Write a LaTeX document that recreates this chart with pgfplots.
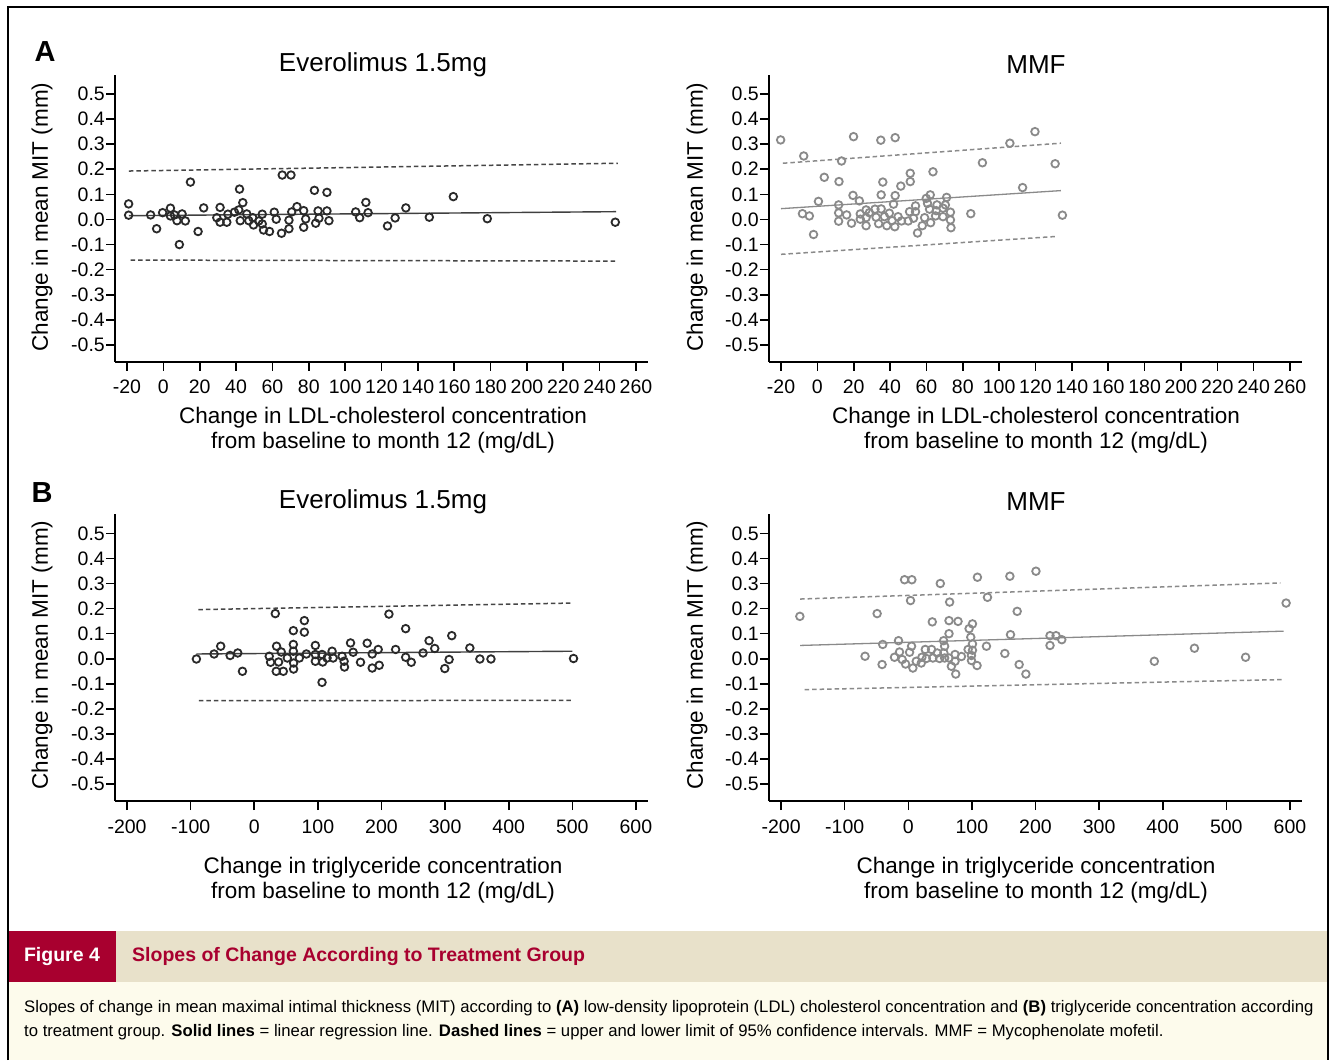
\documentclass[border=0pt]{standalone}
\usepackage{fontspec}
\setmainfont{Liberation Sans}
\usepackage{pgfplots}
\pgfplotsset{compat=1.18}

\definecolor{ptdark}{HTML}{2A2A2A}
\definecolor{ptgray}{HTML}{8A8A8A}
\definecolor{figred}{HTML}{A8002F}
\definecolor{bandbeige}{HTML}{E8E1CA}
\definecolor{capcream}{HTML}{FDFBEC}

\pgfplotsset{
  panel/.style={
    scale only axis, width=533pt, height=287pt,
    anchor=south west, clip=false,
    axis lines=left, axis line style={-, line width=1.8pt, black},
    ymin=-0.567, ymax=0.577,
    ytick={-0.5,-0.4,-0.3,-0.2,-0.1,0,0.1,0.2,0.3,0.4,0.5},
    yticklabels={-0.5,-0.4,-0.3,-0.2,-0.1,0.0,0.1,0.2,0.3,0.4,0.5},
    tick align=outside, major tick length=9pt,
    tick style={black, line width=1.6pt},
    ticklabel style={font=\fontsize{19.5}{21}\selectfont},
    yticklabel style={inner sep=1pt},
    xticklabel style={yshift=-6pt},
  },
  ldl/.style={xmin=-26.6, xmax=266.6,
    xtick={-20,0,20,40,60,80,100,120,140,160,180,200,220,240,260},
    xticklabels={-20,0,20,40,60,80,100,120,140,160,180,200,220,240,260}},
  tg/.style={xmin=-219, xmax=619,
    xtick={-200,-100,0,100,200,300,400,500,600},
    xticklabels={-200,-100,0,100,200,300,400,500,600}},
  dots/.style={only marks, mark=o, mark size=3.8pt, mark options={line width=1.8pt}},
  ci/.style={line width=1.5pt, dash pattern=on 4.5pt off 3pt},
}

\newcommand{\lab}{\fontsize{22.5}{25}\selectfont}
\newcommand{\capfont}{\fontsize{16.7}{18}\selectfont}

\begin{document}
\begin{tikzpicture}
% page and frame
\fill[white] (0pt,0pt) rectangle (1333pt,1060pt);
\fill[capcream] (8pt,0pt) rectangle (1328pt,78pt);
\fill[bandbeige] (8pt,78pt) rectangle (1328pt,129pt);
\fill[figred] (8pt,78pt) rectangle (116pt,129pt);
\draw[black, line width=2pt] (7.5pt,0pt) -- (7.5pt,1052.5pt) -- (1327.5pt,1052.5pt) -- (1327.5pt,0pt);

% ---- A: LDL, everolimus
\begin{axis}[panel, ldl, at={(115pt,698.3pt)}]
\addplot[ci, gray!55!black] coordinates {(-19,0.193) (250,0.224)};
\addplot[ci, gray!55!black] coordinates {(-18,-0.162) (250,-0.166)};
\addplot[gray!50!black, line width=1.4pt] coordinates {(-19,0.015) (249,0.031)};
\addplot[dots, ptdark] coordinates {
(-19.1,0.062) (-19.1,0.017) (-7,0.018) (-3.7,-0.037) (-0.4,0.027) (3.9,0.045)
(3.9,0.014) (6.1,0.018) (7.5,-0.005) (10.3,0.022) (12.1,-0.006) (8.8,-0.1)
(14.9,0.149) (19.1,-0.048) (22.2,0.046) (29.4,0.007) (31.2,0.048) (31.2,-0.011)
(34.9,-0.011) (35.5,0.021) (39.1,0.029) (41.9,0.121) (43.7,0.067) (41.5,0.038)
(42.3,-0.005) (45.9,0.022) (47,-0.005) (49.2,0.007) (49.6,-0.022) (52.5,-0.006)
(54.4,0.021) (54.4,-0.018) (55.1,-0.042) (58.4,-0.048) (61,0.029) (62.1,0.001)
(65,-0.055) (65.4,0.177) (70.2,0.177) (69.1,-0.003) (69.1,-0.037) (70.6,0.03)
(73.5,0.051) (77.2,0.035) (78.3,0.002) (77.2,-0.031) (83.1,0.116) (83.8,-0.015)
(85.1,0.034) (85.6,0.005) (90,0.108) (90,0.034) (91.1,-0.005) (105.8,0.03)
(108,0.007) (111.4,0.068) (112.6,0.027) (123.3,-0.026) (127.5,0.006) (133.4,0.046)
(146.3,0.009) (159.5,0.091) (178.2,0.003) (248.6,-0.011)};
\end{axis}

% ---- A: LDL, MMF
\begin{axis}[panel, ldl, at={(769pt,698.3pt)}]
\addplot[ci, ptgray] coordinates {(-19,0.224) (134,0.304)};
\addplot[ci, ptgray] coordinates {(-20,-0.139) (131,-0.068)};
\addplot[ptgray, line width=1.3pt] coordinates {(-20,0.043) (134,0.115)};
\addplot[dots, ptgray] coordinates {
(-20.2,0.317) (-7.5,0.253) (-8.2,0.023) (-4.4,0.014) (-2.1,-0.06) (0.6,0.072)
(3.8,0.168) (11.9,0.151) (13.3,0.233) (11.7,0.058) (11.7,0.026) (11.7,-0.007)
(16.1,0.018) (18.8,-0.015) (19.6,0.096) (19.9,0.33) (23.1,0.074) (23.6,0.022)
(23.6,0.001) (26.8,0.038) (26.8,0.007) (26.8,-0.025) (28.6,0.027) (31.7,0.041)
(32.3,0.009) (33.7,-0.017) (34.9,0.316) (35.1,0.098) (36,0.149) (35.1,0.042)
(36.9,0.011) (38.2,-0.025) (39.6,0.025) (41.1,-0.005) (42.6,-0.029) (41.9,0.061)
(42.8,0.095) (42.8,0.326) (44.4,0.011) (45.9,0.133) (46.3,-0.006) (50,-0.006)
(51.1,0.184) (51.1,0.151) (50.7,0.031) (52.9,0.005) (54,0.054) (54,0.031)
(55.1,-0.054) (57.7,-0.025) (59,0.007) (59.9,0.084) (60.6,0.064) (62.1,0.098)
(61.7,0.041) (62.3,-0.013) (63.6,0.19) (65.4,0.035) (65.8,0.058) (65,0.014)
(69.1,0.045) (69.1,0.011) (71.1,0.088) (70.4,0.058) (73.2,0.029) (73.2,-0.002)
(73.5,-0.033) (84.4,0.023) (90.8,0.226) (105.9,0.304) (112.9,0.127) (119.7,0.35)
(130.8,0.222) (134.8,0.017)};
\end{axis}

% ---- B: triglyceride, everolimus
\begin{axis}[panel, tg, at={(115pt,259pt)}]
\addplot[ci, gray!55!black] coordinates {(-88,0.196) (500,0.222)};
\addplot[ci, gray!55!black] coordinates {(-87,-0.167) (500,-0.166)};
\addplot[gray!50!black, line width=1.4pt] coordinates {(-91,0.019) (500,0.03)};
\addplot[dots, ptdark] coordinates {
(-91,-0.001) (-63.2,0.019) (-52.8,0.05) (-38,0.013) (-26,0.023) (-18.6,-0.05)
(23.5,0.01) (25.6,-0.014) (33,0.18) (35,0.05) (34.5,-0.05) (38.2,-0.013)
(42.4,0.027) (45.6,-0.05) (51.9,0.003) (61.4,0.112) (61.4,0.057) (61.4,0.03)
(61.8,-0.017) (61.8,-0.041) (70.8,0.003) (78.7,0.152) (78.7,0.106) (81.9,0.019)
(96,0.053) (96,0.017) (96,-0.01) (106.5,0.017) (107.6,-0.013) (106.5,-0.094)
(114.4,0.003) (122.3,0.03) (123.9,0.003) (138,0.01) (141.2,-0.01) (141.8,-0.033)
(151.3,0.063) (155.4,0.026) (167,-0.014) (177.5,0.062) (185.4,0.019) (185.4,-0.037)
(194.8,0.037) (196.4,-0.026) (211.7,0.178) (222.2,0.037) (238,0.12) (238,0.006)
(246.8,-0.014) (265.3,0.023) (274.8,0.072) (283.7,0.041) (299.5,-0.039) (306.3,-0.003)
(310.5,0.092) (338.9,0.043) (354.7,-0.001) (372.1,-0.001) (501.9,0.001)};
\end{axis}

% ---- B: triglyceride, MMF
\begin{axis}[panel, tg, at={(769pt,259pt)}]
\addplot[ci, ptgray] coordinates {(-170,0.238) (585,0.302)};
\addplot[ci, ptgray] coordinates {(-163,-0.123) (588,-0.083)};
\addplot[ptgray, line width=1.3pt] coordinates {(-170,0.053) (590,0.11)};
\addplot[dots, ptgray] coordinates {
(-170.5,0.169) (-68,0.01) (-49,0.18) (-40.2,0.057) (-41.2,-0.023) (-15.4,0.072)
(-21.7,0.006) (-13.8,0.027) (-9.6,-0.003) (-5.9,0.315) (5.6,0.315) (3.5,0.232)
(-4.3,-0.021) (2,0.026) (5.1,0.05) (7.2,-0.037) (12.5,-0.01) (20.4,-0.017)
(21.4,0.006) (26.7,0.037) (28.3,0.001) (37.7,0.147) (36.6,0.037) (38.7,0.003)
(45.6,0.023) (50.3,0.3) (49.2,0.001) (55.5,0.072) (57.1,0.05) (56,0.023)
(57.1,0.003) (64,0.152) (65,0.226) (64,0.1) (64,0.003) (67.7,-0.03)
(73.5,0.017) (73.5,-0.01) (74.6,-0.061) (78.2,0.149) (83.5,0.009) (94,0.037)
(95.6,0.12) (100.9,0.139) (98.2,0.086) (100.9,0.059) (100.9,0.034) (99.3,0.013)
(99.3,-0.007) (108.1,-0.027) (108.7,0.325) (122.9,0.05) (124.5,0.245) (151.8,0.021)
(159.7,0.329) (160.7,0.096) (171.2,0.189) (174.3,-0.023) (184.9,-0.061) (200.7,0.349)
(222.8,0.092) (222.8,0.053) (232.3,0.092) (241.3,0.076) (386.8,-0.01) (449.9,0.042)
(530.3,0.006) (594,0.222)};
\end{axis}

% panel letters, titles, axis labels
\node[font=\fontsize{29}{30}\selectfont\bfseries] at (45pt,1008pt) {A};
\node[font=\fontsize{29}{30}\selectfont\bfseries] at (42pt,567pt) {B};
\node[font=\fontsize{26}{28}\selectfont] at (383pt,995pt) {Everolimus 1.5mg};
\node[font=\fontsize{26}{28}\selectfont] at (1036pt,995pt) {MMF};
\node[font=\fontsize{26}{28}\selectfont] at (383pt,558pt) {Everolimus 1.5mg};
\node[font=\fontsize{26}{28}\selectfont] at (1036pt,558pt) {MMF};

\node[font=\lab, rotate=90] at (42pt,843pt) {Change in mean MIT (mm)};
\node[font=\lab, rotate=90] at (697pt,843pt) {Change in mean MIT (mm)};
\node[font=\lab, rotate=90] at (42pt,405pt) {Change in mean MIT (mm)};
\node[font=\lab, rotate=90] at (697pt,405pt) {Change in mean MIT (mm)};

\node[font=\lab, align=center] at (383pt,630pt)
  {Change in LDL-cholesterol concentration\\from baseline to month 12 (mg/dL)};
\node[font=\lab, align=center] at (1036pt,630pt)
  {Change in LDL-cholesterol concentration\\from baseline to month 12 (mg/dL)};
\node[font=\lab, align=center] at (383pt,180pt)
  {Change in triglyceride concentration\\from baseline to month 12 (mg/dL)};
\node[font=\lab, align=center] at (1036pt,180pt)
  {Change in triglyceride concentration\\from baseline to month 12 (mg/dL)};

% caption
\node[font=\fontsize{19.5}{21}\selectfont\bfseries, text=white] at (62pt,104pt) {Figure 4};
\node[font=\fontsize{19.5}{21}\selectfont\bfseries, text=figred, anchor=west, inner sep=0pt]
  at (132pt,104pt) {Slopes of Change According to Treatment Group};
\node[font=\capfont, anchor=west, inner sep=0pt] at (24pt,52pt)
  {Slopes of change in mean maximal intimal thickness (MIT) according to \textbf{(A)} low-density lipoprotein (LDL) cholesterol concentration and \textbf{(B)} triglyceride concentration according};
\node[font=\capfont, anchor=west, inner sep=0pt] at (24pt,28pt)
  {to treatment group. \textbf{Solid lines} = linear regression line. \textbf{Dashed lines} = upper and lower limit of 95\% confidence intervals. MMF = Mycophenolate mofetil.};
\end{tikzpicture}
\end{document}
